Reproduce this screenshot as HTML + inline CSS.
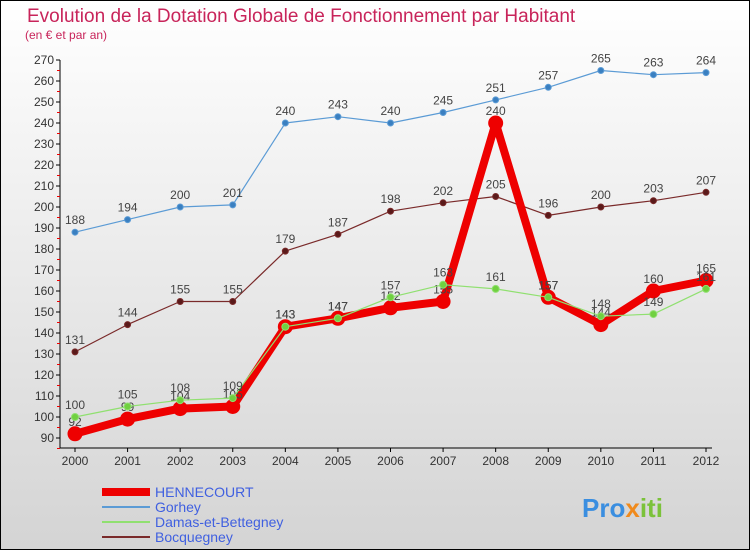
<!DOCTYPE html>
<html><head><meta charset="utf-8"><style>
body{margin:0;width:750px;height:550px;overflow:hidden;font-family:"Liberation Sans",sans-serif}
</style></head><body>
<svg width="750" height="550" xmlns="http://www.w3.org/2000/svg">
<defs><linearGradient id="bg" x1="0" y1="0" x2="0" y2="1"><stop offset="0" stop-color="#ffffff"/><stop offset="1" stop-color="#d4d4d4"/></linearGradient></defs>
<rect x="0.5" y="0.5" width="749" height="549" fill="url(#bg)" stroke="#000"/>
<text x="27" y="22" font-size="19" fill="#c8245a">Evolution de la Dotation Globale de Fonctionnement par Habitant</text>
<text x="25" y="39" font-size="12" fill="#c8245a">(en € et par an)</text>
<g id="axes"></g><g id="series"></g><g id="legend"></g>
<text x="582" y="517" font-size="26" font-weight="bold" fill="#3a8ee0">Pro<tspan fill="#f08a1c">x</tspan><tspan fill="#7bc23a">iti</tspan></text>
</svg>
<script>
const years=[2000,2001,2002,2003,2004,2005,2006,2007,2008,2009,2010,2011,2012];
const yTicks=[90,100,110,120,130,140,150,160,170,180,190,200,210,220,230,240,250,260,270];
const hennecourt=[92,99,104,105,143,147,152,155,240,157,144,160,165];
const gorhey=[188,194,200,201,240,243,240,245,251,257,265,263,264];
const damas=[100,105,108,109,143,147,157,163,161,157,148,149,161];
const bocquegney=[131,144,155,155,179,187,198,202,205,196,200,203,207];
const NS="http://www.w3.org/2000/svg";
const X=i=>75+i*(706-75)/12, Y=v=>438-(v-90)*(438-60)/180;
function mk(t,a,p){const e=document.createElementNS(NS,t);for(const k in a)e.setAttribute(k,a[k]);p.appendChild(e);return e;}
const ax=document.getElementById('axes');
const yl=mk('line',{x1:60,y1:60,x2:60,y2:448,stroke:'#000'},ax);

const xl=mk('line',{x1:60,y1:448,x2:712,y2:448,stroke:'#000'},ax);

yTicks.forEach(v=>{const y=Y(v);mk('line',{x1:56,y1:y,x2:60,y2:y,stroke:'#000'},ax);
mk('line',{x1:57,y1:y+10.5,x2:60,y2:y+10.5,stroke:'#e00'},ax);
const t=mk('text',{x:54,y:y+4,'text-anchor':'end','font-size':12,fill:'#333'},ax);t.textContent=v;
});
years.forEach((yr,i)=>{const x=X(i);mk('line',{x1:x,y1:448,x2:x,y2:452,stroke:'#000'},ax);
const t=mk('text',{x:x,y:465,'text-anchor':'middle','font-size':12,fill:'#333'},ax);t.textContent=yr;
});
const sg=document.getElementById('series');
function series(d,color,w,r,dot,name){const g=mk('g',{},sg);

mk('polyline',{points:d.map((v,i)=>X(i)+','+Y(v)).join(' '),fill:'none',stroke:color,'stroke-width':w,'stroke-linejoin':'round'},g);
d.forEach((v,i)=>{const c=mk('circle',{cx:X(i),cy:Y(v),r:r,fill:dot,stroke:color,'stroke-width':1},g);

const t=mk('text',{x:X(i),y:Y(v)-8,'text-anchor':'middle','font-size':12,fill:'#444'},g);t.textContent=v;
});}
series(gorhey,'#5b9bd5',1.2,3,'#3a7fc0','series-gorhey');
series(bocquegney,'#7a2a2a',1.2,3,'#5a1a1a','series-bocquegney');
series(hennecourt,'#ee0000',8,7,'#ee0000','series-hennecourt');
series(damas,'#90e070',1.2,3.5,'#70d040','series-damas');
const lg=document.getElementById('legend');
[['HENNECOURT','#ee0000',8],['Gorhey','#5b9bd5',2],['Damas-et-Bettegney','#90e070',2],['Bocquegney','#7a2a2a',2]].forEach((e,i)=>{
const y=492+i*15;const g=mk('g',{},lg);
mk('line',{x1:102,y1:y,x2:150,y2:y,stroke:e[1],'stroke-width':e[2]},g);
const t=mk('text',{x:155,y:y+5,'font-size':14,fill:'#4060e0'},g);t.textContent=e[0];});
</script>
</body></html>
